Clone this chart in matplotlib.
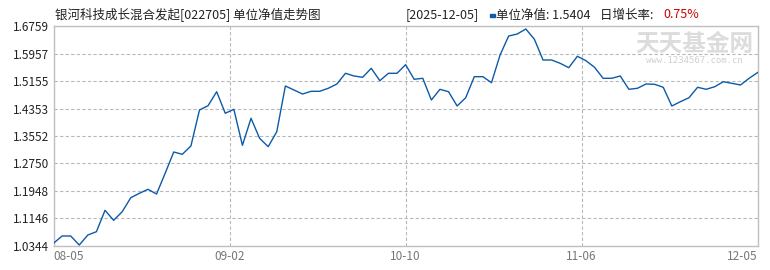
import numpy as np
import matplotlib
matplotlib.use("Agg")
import matplotlib.pyplot as plt

# unit NAV, one value per trading day from 08-05 to 12-05
nav = [1.0423, 1.0636, 1.0636, 1.0373, 1.0665, 1.0761, 1.1385, 1.1093, 1.1344, 1.1752,
       1.1881, 1.1997, 1.1860, 1.2464, 1.3085, 1.3018, 1.3260, 1.4310, 1.4435, 1.4843,
       1.4214, 1.4330, 1.3280, 1.4068, 1.3485, 1.3240, 1.3677, 1.5010, 1.4893, 1.4776,
       1.4855, 1.4855, 1.4943, 1.5068, 1.5380, 1.5301, 1.5263, 1.5526, 1.5164, 1.5380,
       1.5380, 1.5631, 1.5205, 1.5234, 1.4601, 1.4913, 1.4843, 1.4426, 1.4668, 1.5281,
       1.5281, 1.5106, 1.5913, 1.6467, 1.6526, 1.6672, 1.6371, 1.5768, 1.5768, 1.5671,
       1.5543, 1.5876, 1.5747, 1.5555, 1.5234, 1.5234, 1.5301, 1.4913, 1.4943, 1.5068,
       1.5059, 1.4972, 1.4426, 1.4552, 1.4668, 1.4972, 1.4913, 1.4989, 1.5135, 1.5088,
       1.5039, 1.5234, 1.5404]
x_labels = ["08-05", "09-02", "10-10", "11-06", "12-05"]
y_ticks = [1.0344, 1.1146, 1.1948, 1.2750, 1.3552, 1.4353, 1.5155, 1.5957, 1.6759]

title = "银河科技成长混合发起[022705] 单位净值走势图"
last_date = "[2025-12-05]"
last_nav = "1.5404"
last_rate = "0.75%"

fam = ["Noto Sans CJK SC", "DejaVu Sans"]
plt.rcParams["font.family"] = fam

fig = plt.figure(figsize=(7.7, 2.7), dpi=100)
ax = fig.add_axes([53.5 / 770, 1 - 246 / 270, (757.7 - 53.5) / 770, 220 / 270])

xs = np.arange(len(nav))
ax.plot(xs, nav, color="#0d5aa7", lw=1.0, zorder=3)

ax.set_xlim(0, len(nav) - 1)
ax.set_ylim(y_ticks[0], y_ticks[-1])
ax.set_yticks(y_ticks)
ax.set_yticklabels([f"{v:.4f}" for v in y_ticks], fontsize=8.5, color="#222222")
xt = np.linspace(0, len(nav) - 1, len(x_labels))
ax.set_xticks(xt)
ax.set_xticklabels(x_labels, fontsize=8.5, color="#777777")
lbls = ax.get_xticklabels()
lbls[0].set_ha("left")
lbls[-1].set_ha("right")
ax.tick_params(length=0, pad=3)

ax.grid(True, ls=(0, (3, 2)), color="#b8b8b8", lw=0.8)
for s in ax.spines.values():
    s.set_color("#c0c0c0")
    s.set_linewidth(1.0)

# header
fig.text(55 / 770, 1 - 15 / 270, title, fontsize=9, color="#222222", va="center")
fig.text(406 / 770, 1 - 15 / 270, last_date, fontsize=9, color="#222222", va="center")
fig.patches.append(plt.Rectangle((490 / 770, 1 - 16.5 / 270), 5 / 770, 3 / 270,
                                 transform=fig.transFigure, color="#0d5aa7"))
fig.text(496 / 770, 1 - 15 / 270, "单位净值: " + last_nav, fontsize=9, color="#222222", va="center")
fig.text(600 / 770, 1 - 15 / 270, "日增长率: ", fontsize=9, color="#222222", va="center")
fig.text(663 / 770, 1 - 15 / 270, last_rate, fontsize=9, color="#cc0000", va="center")

# watermark
fig.text(694 / 770, 1 - 44 / 270, "天天基金网", fontsize=17, color="#dcdcdc",
         ha="center", va="center", weight="bold", zorder=0)
fig.text(694 / 770, 1 - 61 / 270, "www.1234567.com.cn", fontsize=6.5, color="#d0d0d0",
         ha="center", va="center", family="DejaVu Sans Mono", zorder=0)

fig.savefig("out.png", dpi=100)
